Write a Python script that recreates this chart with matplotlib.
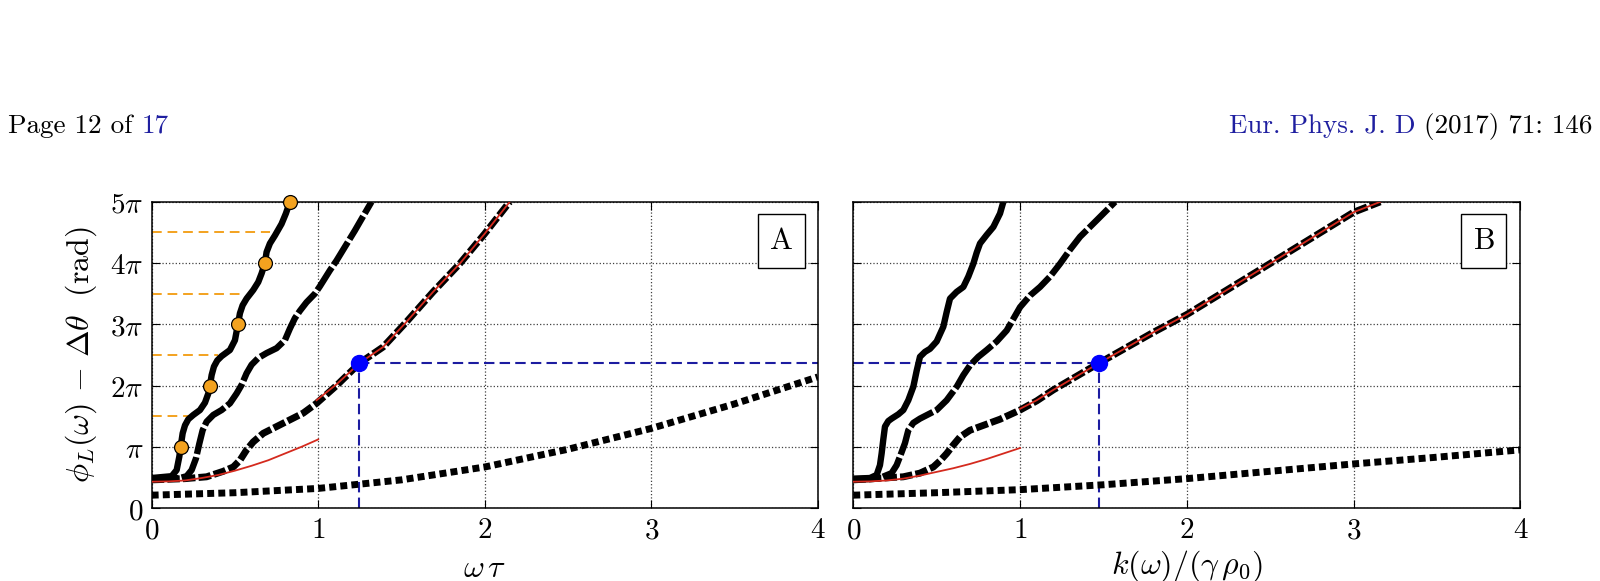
import matplotlib
matplotlib.use("Agg")
import matplotlib.pyplot as plt
import numpy as np

plt.rcParams['mathtext.fontset'] = 'cm'
plt.rcParams['font.family'] = ['serif']
plt.rcParams['font.serif'] = ['DejaVu Serif']

# ---- data (y values in units of pi) ----
# panel A : x = omega tau
a1_x = [0, 0.12, 0.15, 0.166, 0.174, 0.186, 0.20, 0.22, 0.25, 0.29, 0.32, 0.34, 0.35,
        0.36, 0.374, 0.394, 0.42, 0.47, 0.50, 0.518, 0.53, 0.546, 0.57, 0.61, 0.64,
        0.66, 0.68, 0.69, 0.71, 0.74, 0.78, 0.806, 0.83]
a1_y = [0.49, 0.52, 0.62, 0.84, 1.0, 1.22, 1.35, 1.45, 1.52, 1.60, 1.72, 1.87, 2.0,
        2.17, 2.31, 2.41, 2.48, 2.58, 2.74, 3.0, 3.18, 3.31, 3.42, 3.56, 3.69,
        3.83, 4.0, 4.18, 4.32, 4.45, 4.64, 4.81, 5.0]
a2_x = [0, 0.17, 0.21, 0.24, 0.266, 0.286, 0.306, 0.33, 0.37, 0.42, 0.47, 0.51, 0.54,
        0.57, 0.60, 0.64, 0.69, 0.75, 0.80, 0.83, 0.86, 0.89, 0.93, 0.98, 1.01,
        1.04, 1.07, 1.11, 1.22, 1.32]
a2_y = [0.47, 0.49, 0.52, 0.62, 0.81, 1.05, 1.27, 1.41, 1.52, 1.60, 1.71, 1.87, 2.01,
        2.20, 2.34, 2.45, 2.53, 2.61, 2.74, 2.93, 3.10, 3.22, 3.36, 3.50, 3.62,
        3.75, 3.88, 4.04, 4.53, 5.0]
a3_x = [0, 0.20, 0.33, 0.43, 0.49, 0.53, 0.57, 0.61, 0.67, 0.75, 0.83, 0.91, 0.99,
        1.11, 1.25, 1.39, 1.53, 1.69, 1.85, 2.0, 2.15]
a3_y = [0.46, 0.48, 0.51, 0.60, 0.67, 0.78, 0.95, 1.08, 1.22, 1.33, 1.44, 1.55, 1.71,
        2.0, 2.37, 2.63, 3.04, 3.53, 3.99, 4.48, 5.0]
a4_x = [0, 0.5, 1.0, 1.5, 2.0, 2.5, 3.0, 3.5, 4.0]
a4_y = [0.21, 0.25, 0.32, 0.46, 0.67, 0.96, 1.30, 1.70, 2.14]
a_red1_x = [0, 0.1, 0.2, 0.3, 0.4, 0.5, 0.6, 0.7, 0.8, 0.9, 1.0]
a_red1_y = [0.43, 0.435, 0.45, 0.49, 0.54, 0.61, 0.69, 0.78, 0.89, 1.0, 1.12]
a_red2_x = [0.99, 1.11, 1.25, 1.39, 1.53, 1.69, 1.85, 2.0, 2.15]
a_red2_y = [1.76, 2.02, 2.37, 2.63, 3.04, 3.53, 3.99, 4.48, 5.0]
orange_x = [0.174, 0.35, 0.518, 0.68, 0.83]
orange_y = [1, 2, 3, 4, 5]
half_y = [1.5, 2.5, 3.5, 4.5]
half_x = [0.23, 0.40, 0.56, 0.71]
a_dot = (1.245, 2.37)

# panel B : x = k(omega)/(gamma rho0)
b1_x = [0, 0.10, 0.14, 0.16, 0.17, 0.18, 0.19, 0.21, 0.23, 0.27, 0.30, 0.33, 0.36,
        0.38, 0.40, 0.43, 0.46, 0.50, 0.54, 0.56, 0.58, 0.62, 0.66, 0.69, 0.72,
        0.74, 0.76, 0.80, 0.84, 0.88, 0.90]
b1_y = [0.48, 0.49, 0.54, 0.70, 0.89, 1.12, 1.33, 1.42, 1.46, 1.53, 1.60, 1.76, 1.98,
        2.24, 2.47, 2.55, 2.60, 2.72, 2.96, 3.20, 3.42, 3.53, 3.61, 3.78, 3.99,
        4.17, 4.32, 4.46, 4.59, 4.81, 5.0]
b2_x = [0, 0.15, 0.23, 0.26, 0.28, 0.31, 0.33, 0.36, 0.40, 0.45, 0.50, 0.56, 0.62,
        0.66, 0.70, 0.75, 0.80, 0.86, 0.92, 0.96, 1.0, 1.06, 1.12, 1.18, 1.24,
        1.30, 1.36, 1.46, 1.57]
b2_y = [0.46, 0.48, 0.57, 0.70, 0.84, 1.06, 1.27, 1.39, 1.46, 1.53, 1.60, 1.76, 1.98,
        2.17, 2.33, 2.47, 2.58, 2.72, 2.90, 3.09, 3.28, 3.47, 3.61, 3.78, 3.99,
        4.22, 4.43, 4.70, 5.0]
b3_x = [0, 0.30, 0.40, 0.48, 0.52, 0.56, 0.60, 0.64, 0.70, 0.78, 0.88, 1.0, 1.1,
        1.2, 1.476, 1.8, 2.0, 2.48, 3.0, 3.16]
b3_y = [0.46, 0.51, 0.57, 0.67, 0.77, 0.89, 1.03, 1.16, 1.27, 1.35, 1.45, 1.60, 1.75,
        1.93, 2.37, 2.87, 3.16, 3.96, 4.83, 5.0]
b4_x = [0, 0.5, 1.0, 1.5, 2.0, 2.5, 3.0, 3.5, 4.0]
b4_y = [0.21, 0.25, 0.30, 0.38, 0.48, 0.60, 0.72, 0.83, 0.95]
b_red1_x = [0, 0.1, 0.2, 0.3, 0.4, 0.5, 0.6, 0.7, 0.8, 0.9, 1.0]
b_red1_y = [0.43, 0.435, 0.45, 0.48, 0.53, 0.59, 0.65, 0.72, 0.80, 0.89, 0.98]
b_red2_x = [1.0, 1.1, 1.2, 1.476, 1.8, 2.0, 2.48, 3.0, 3.16]
b_red2_y = [1.62, 1.76, 1.93, 2.37, 2.87, 3.16, 3.96, 4.83, 5.0]
b_dot = (1.476, 2.37)

xticks = [0, 1, 2, 3, 4]
yticks = [0, 1, 2, 3, 4, 5]
ytick_labels = [r"$0$", r"$\pi$", r"$2\pi$", r"$3\pi$", r"$4\pi$", r"$5\pi$"]

RED = '#d42a1e'
ORANGE = '#f3a21f'
NAVY = '#1c1ca0'
LINKBLUE = '#1f1fa0'

fig = plt.figure(figsize=(16, 5.81), dpi=100)
axA = fig.add_axes([0.0948, 0.1256, 0.4163, 0.527])
axB = fig.add_axes([0.5333, 0.1256, 0.4169, 0.527])


def draw_curves(ax, c1, c2, c3, c4, red1, red2):
    kw = dict(color='k', dash_capstyle='butt', solid_capstyle='butt',
              solid_joinstyle='round', dash_joinstyle='round')
    ax.plot(c4[0], np.array(c4[1]) * np.pi, lw=5.0, dashes=(1.0, 0.6), zorder=3, **kw)
    ax.plot(c3[0], np.array(c3[1]) * np.pi, lw=5.0, dashes=(1.8, 0.45), zorder=3, **kw)
    ax.plot(c2[0], np.array(c2[1]) * np.pi, lw=4.6, dashes=(4.2, 0.5), zorder=3, **kw)
    ax.plot(c1[0], np.array(c1[1]) * np.pi, lw=4.6, zorder=3, **kw)
    ax.plot(red1[0], np.array(red1[1]) * np.pi, color=RED, lw=1.3, zorder=4)
    ax.plot(red2[0], np.array(red2[1]) * np.pi, color=RED, lw=1.3, zorder=4)


draw_curves(axA, (a1_x, a1_y), (a2_x, a2_y), (a3_x, a3_y), (a4_x, a4_y),
            (a_red1_x, a_red1_y), (a_red2_x, a_red2_y))
draw_curves(axB, (b1_x, b1_y), (b2_x, b2_y), (b3_x, b3_y), (b4_x, b4_y),
            (b_red1_x, b_red1_y), (b_red2_x, b_red2_y))

# orange guides and markers (panel A)
for hx, hy in zip(half_x, half_y):
    axA.plot([0, hx], [hy * np.pi, hy * np.pi], color=ORANGE, lw=1.4,
             dashes=(5, 3), zorder=2)
axA.plot(orange_x, np.array(orange_y) * np.pi, 'o', ms=10, mfc=ORANGE, mec='k',
         mew=0.9, zorder=6, clip_on=False)

# blue guides
axA.plot([a_dot[0], 4], [a_dot[1] * np.pi] * 2, color=NAVY, lw=1.5, dashes=(5, 2.5), zorder=2)
axA.plot([a_dot[0]] * 2, [0, a_dot[1] * np.pi], color=NAVY, lw=1.5, dashes=(5, 2.5), zorder=2)
axA.plot([a_dot[0]], [a_dot[1] * np.pi], 'o', ms=11.5, color='#0000ff', zorder=7)
axB.plot([0, b_dot[0]], [b_dot[1] * np.pi] * 2, color=NAVY, lw=1.5, dashes=(5, 2.5), zorder=2)
axB.plot([b_dot[0]] * 2, [0, b_dot[1] * np.pi], color=NAVY, lw=1.5, dashes=(5, 2.5), zorder=2)
axB.plot([b_dot[0]], [b_dot[1] * np.pi], 'o', ms=11.5, color='#0000ff', zorder=7)

for ax, tag in ((axA, 'A'), (axB, 'B')):
    ax.set_xlim(0, 4)
    ax.set_ylim(0, 5 * np.pi)
    ax.set_xticks(xticks)
    ax.set_xticklabels([r"$%d$" % v for v in xticks])
    ax.set_yticks(np.array(yticks) * np.pi)
    ax.grid(True, color='0.25', linestyle=':', lw=0.9)
    ax.tick_params(direction='in', length=6, width=0.8, top=True, right=True,
                   labelsize=21, pad=6)
    for s in ax.spines.values():
        s.set_linewidth(1.1)
    ax.text(0.945, 0.873, r"$\mathrm{%s}$" % tag, transform=ax.transAxes,
            ha='center', va='center', fontsize=22, zorder=8,
            bbox=dict(boxstyle='square,pad=0.38', fc='white', ec='k', lw=1))

axA.set_yticklabels(ytick_labels)
axB.set_yticklabels([])
axA.set_xlabel(r"$\omega\,\tau$", fontsize=23, labelpad=6)
axB.set_xlabel(r"$k(\omega)/(\gamma\,\rho_0)$", fontsize=23, labelpad=3)
axA.set_ylabel(r"$\phi_L(\omega)\,-\,\Delta\theta\ \ (\mathrm{rad})$", fontsize=23, labelpad=8)

# page header
fig.canvas.draw()
renderer = fig.canvas.get_renderer()
W = fig.get_figwidth() * fig.dpi
hy = (581 - 132.5) / 581
hfs = 19.5
t1 = fig.text(0.005, hy, "Page 12 of ", fontsize=hfs, va='baseline', family='cmr10')
bb = t1.get_window_extent(renderer)
fig.text(bb.x1 / W, hy, "17", fontsize=hfs, va='baseline', color=LINKBLUE, family='cmr10')
t3 = fig.text(0.9955, hy, " (2017) 71: 146", fontsize=hfs, va='baseline', ha='right',
              family='cmr10')
bb = t3.get_window_extent(renderer)
fig.text(bb.x0 / W, hy, "Eur. Phys. J. D", fontsize=hfs, va='baseline', ha='right',
         color=LINKBLUE, family='cmr10')

fig.savefig('out.png', dpi=100)
